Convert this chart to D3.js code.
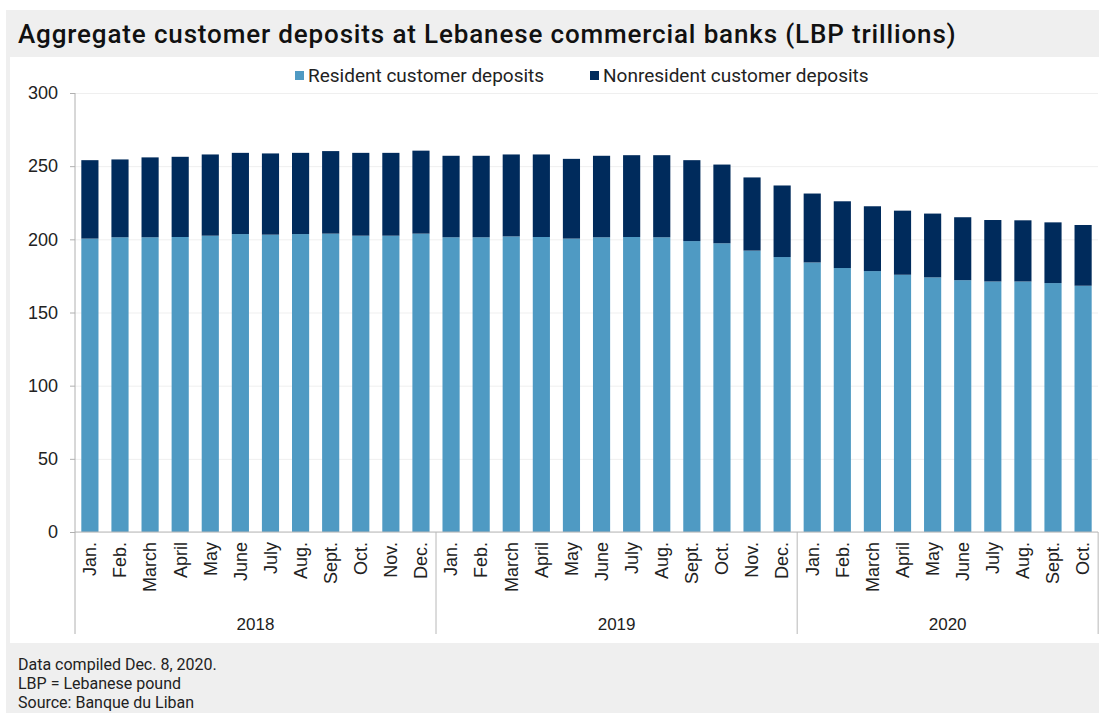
<!DOCTYPE html>
<html>
<head>
<meta charset="utf-8">
<script src="https://cdn.jsdelivr.net/npm/d3@7"></script>
<style>
  body { margin: 0; background: #ffffff; }
  svg { display: block; }
  .title { font-family: Roboto, sans-serif; font-weight: 500; font-size: 26px; letter-spacing: 0.85px; fill: #111; }
  .legend text { font-family: Roboto, sans-serif; font-size: 19px; fill: #222; }
  .tick text { font-family: "Liberation Sans", Arial, sans-serif; fill: #222; }
  .year { font-family: "Liberation Sans", Arial, sans-serif; font-size: 17px; fill: #222; }
  .note { font-family: Roboto, sans-serif; font-size: 16px; fill: #222; }
</style>
</head>
<body>
<svg width="1099" height="713"></svg>
<script>
(function (d3) {
  "use strict";

  // data (LBP trillions)
  const months = [
    "Jan.", "Feb.", "March", "April", "May", "June", "July", "Aug.", "Sept.", "Oct.", "Nov.", "Dec.",
    "Jan.", "Feb.", "March", "April", "May", "June", "July", "Aug.", "Sept.", "Oct.", "Nov.", "Dec.",
    "Jan.", "Feb.", "March", "April", "May", "June", "July", "Aug.", "Sept.", "Oct."
  ];
  const yearLabels = ["2018", "2019", "2020"];
  const monthsPerYear = [12, 12, 10];

  const resident = [
    200.5, 201.4, 201.4, 201.6, 202.5, 203.6, 203.2, 203.6, 203.9, 202.5, 202.5, 203.9,
    201.4, 201.4, 202.0, 201.6, 200.5, 201.4, 201.6, 201.4, 198.8, 197.3, 192.3, 187.9,
    184.2, 180.4, 178.3, 175.8, 174.0, 172.1, 171.2, 171.2, 170.1, 168.3
  ];
  const nonresident = [
    53.6, 53.2, 54.6, 54.8, 55.5, 55.5, 55.5, 55.5, 56.4, 56.6, 56.6, 56.7,
    55.7, 55.7, 56.0, 56.4, 54.5, 55.7, 55.9, 56.1, 55.3, 53.8, 50.0, 48.9,
    47.1, 45.6, 44.3, 43.8, 43.6, 43.0, 42.0, 41.8, 41.5, 41.5
  ];
  const yTicks = [0, 50, 100, 150, 200, 250, 300];

  const seriesNames = ["Resident customer deposits", "Nonresident customer deposits"];
  const colors = ["#4f9ac3", "#002b5c"];

  const svg = d3.select("svg");
  const width = +svg.attr("width");
  const height = +svg.attr("height");

  // backgrounds
  svg.append("rect").attr("x", 6).attr("y", 10)
    .attr("width", width - 6).attr("height", height - 10).attr("fill", "#efefef");
  svg.append("rect").attr("x", 10).attr("y", 57)
    .attr("width", width - 10).attr("height", 586).attr("fill", "#ffffff");

  svg.append("text").attr("class", "title").attr("x", 18).attr("y", 43)
    .text("Aggregate customer deposits at Lebanese commercial banks (LBP trillions)");

  const margin = { top: 93, right: 1, bottom: 181, left: 75 };
  const innerWidth = width - margin.left - margin.right;
  const innerHeight = height - margin.top - margin.bottom;

  const table = months.map((m, i) => ({ i, resident: resident[i], nonresident: nonresident[i] }));
  const stack = d3.stack().keys(["resident", "nonresident"]);
  const layers = stack(table);

  const xScale = d3.scaleBand()
    .domain(d3.range(months.length))
    .range([0, innerWidth])
    .paddingInner(0.43)
    .paddingOuter(0.21);

  const yScale = d3.scaleLinear()
    .domain([0, 300])
    .range([innerHeight, 0]);

  const g = svg.append("g")
    .attr("transform", `translate(${margin.left},${margin.top})`);

  // gridlines
  const grid = g.append("g")
    .call(d3.axisLeft(yScale).tickValues(yTicks).tickSize(-innerWidth).tickFormat(""));
  grid.select(".domain").remove();
  grid.selectAll("line").attr("stroke", "#efefef");

  // bars
  g.selectAll("g.layer")
    .data(layers)
    .enter()
    .append("g")
    .attr("class", "layer")
    .attr("fill", (d, i) => colors[i])
    .selectAll("rect")
    .data((d) => d)
    .enter()
    .append("rect")
    .attr("x", (d) => xScale(d.data.i))
    .attr("width", xScale.bandwidth())
    .attr("y", (d) => yScale(d[1]))
    .attr("height", (d) => yScale(d[0]) - yScale(d[1]));

  // y axis
  const yAxisG = g.append("g")
    .call(d3.axisLeft(yScale).tickValues(yTicks).tickSize(5).tickPadding(12));
  yAxisG.select(".domain").remove();
  yAxisG.selectAll("line").attr("stroke", "#b0b0b0");
  yAxisG.selectAll("text").attr("font-size", 18);

  // x baseline and group separators
  const sepBottom = innerHeight + 102;
  g.append("line")
    .attr("x1", 0).attr("x2", innerWidth)
    .attr("y1", innerHeight).attr("y2", innerHeight)
    .attr("stroke", "#b8b8b8");
  g.append("line")
    .attr("x1", 0).attr("x2", 0)
    .attr("y1", 0).attr("y2", sepBottom)
    .attr("stroke", "#b0b0b0");

  const step = xScale.step();
  let start = 0;
  monthsPerYear.forEach((n, k) => {
    const end = start + n - 1;
    const xLeft = k === 0 ? 0 : xScale(start) - (step - xScale.bandwidth()) / 2;
    const xRight = xScale(end) + xScale.bandwidth() + (step - xScale.bandwidth()) / 2;
    g.append("line")
      .attr("x1", xRight).attr("x2", xRight)
      .attr("y1", innerHeight).attr("y2", sepBottom)
      .attr("stroke", "#b8b8b8");
    g.append("text")
      .attr("class", "year")
      .attr("x", (xLeft + xRight) / 2)
      .attr("y", innerHeight + 98)
      .attr("text-anchor", "middle")
      .text(yearLabels[k]);
    start += n;
  });

  // month labels
  g.append("g")
    .selectAll("text")
    .data(months)
    .enter()
    .append("text")
    .attr("class", "tick")
    .attr("transform", (d, i) =>
      `translate(${xScale(i) + xScale.bandwidth() / 2},${innerHeight + 10}) rotate(-90)`)
    .attr("text-anchor", "end")
    .attr("dy", "0.35em")
    .attr("font-family", "Liberation Sans, Arial, sans-serif")
    .attr("font-size", 18)
    .attr("fill", "#222")
    .text((d) => d);

  // legend
  const legend = svg.append("g").attr("class", "legend");
  const legendX = [295, 590];
  seriesNames.forEach((name, i) => {
    legend.append("rect")
      .attr("x", legendX[i]).attr("y", 71)
      .attr("width", 9).attr("height", 9)
      .attr("fill", colors[i]);
    legend.append("text")
      .attr("x", legendX[i] + 13).attr("y", 82)
      .text(name);
  });

  // footer notes
  const notes = ["Data compiled Dec. 8, 2020.", "LBP = Lebanese pound", "Source: Banque du Liban"];
  svg.selectAll("text.note")
    .data(notes)
    .enter()
    .append("text")
    .attr("class", "note")
    .attr("x", 18)
    .attr("y", (d, i) => 670 + i * 19)
    .text((d) => d);
})(d3);
</script>
</body>
</html>
